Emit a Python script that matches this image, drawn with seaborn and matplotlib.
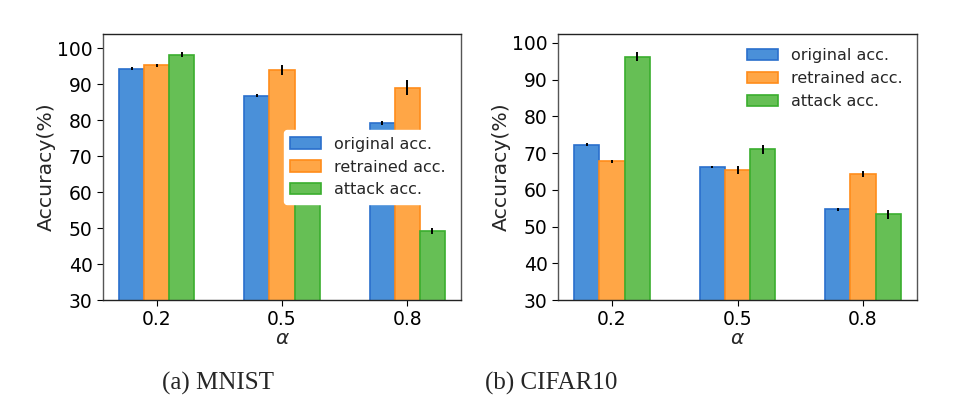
import numpy as np
import pandas as pd
import matplotlib
matplotlib.use('Agg')
import matplotlib.pyplot as plt
import seaborn as sns

alphas = ['0.2', '0.5', '0.8']
series = ['original acc.', 'retrained acc.', 'attack acc.']

mnist_original = [94.3, 86.8, 79.1]
mnist_retrained = [95.2, 93.9, 89.0]
mnist_attack = [98.2, 64.0, 49.1]
mnist_original_err = [0.4, 0.4, 0.5]
mnist_retrained_err = [0.5, 1.3, 2.0]
mnist_attack_err = [0.6, 1.0, 0.8]

cifar_original = [72.2, 66.3, 54.7]
cifar_retrained = [67.7, 65.4, 64.3]
cifar_attack = [96.2, 71.0, 53.3]
cifar_original_err = [0.4, 0.3, 0.4]
cifar_retrained_err = [0.4, 1.0, 0.8]
cifar_attack_err = [1.2, 1.2, 1.3]

face_colors = ['#4A90D9', '#FFA646', '#66BF55']
edge_colors = ['#2A6FCC', '#FF8C1A', '#3AAE2E']

sns.set_style('white')
plt.rcParams['font.family'] = ['DejaVu Sans']


def make_df(orig, retr, att):
    rows = []
    for name, vals in zip(series, [orig, retr, att]):
        for a, v in zip(alphas, vals):
            rows.append({'alpha': a, 'acc': v, 'series': name})
    return pd.DataFrame(rows)


def draw(ax, df, errs, ytop, legend_loc, legend_anchor):
    sns.barplot(data=df, x='alpha', y='acc', hue='series', hue_order=series,
                palette=face_colors, width=0.6, errorbar=None, ax=ax,
                saturation=1)
    # restyle bars per series and add error bars
    bars = [p for p in ax.patches if p.get_height() > 0]
    for i, p in enumerate(bars[:9]):
        s = i // 3
        p.set_edgecolor(edge_colors[s])
        p.set_linewidth(1.2)
        ax.errorbar(p.get_x() + p.get_width() / 2, p.get_height(),
                    yerr=errs[s][i % 3], fmt='none', ecolor='black',
                    elinewidth=1.4, capsize=0, zorder=5)
    ax.set_ylim(30, ytop)
    ax.set_xlim(-0.43, 2.43)
    ax.set_yticks(range(30, 101, 10))
    ax.tick_params(axis='both', labelsize=13.5, length=4, width=0.8,
                   left=True, bottom=True, colors='black')
    ax.set_xlabel(r'$\alpha$', fontsize=14.5, labelpad=0)
    ax.set_ylabel('Accuracy(%)', fontsize=14.7, labelpad=1)
    for side, sp in ax.spines.items():
        sp.set_color('#555555' if side in ('left', 'right') else '#222222')
        sp.set_linewidth(1.0)
    leg = ax.legend(loc=legend_loc, bbox_to_anchor=legend_anchor, fontsize=11.5,
                    frameon=True, facecolor='white', edgecolor='white',
                    framealpha=1, handlelength=1.95, handleheight=0.7,
                    borderpad=0.4)
    for h, c in zip(leg.legend_handles, edge_colors):
        h.set_edgecolor(c)
        h.set_linewidth(1.2)


fig = plt.figure(figsize=(9.56, 4.12), dpi=100)
ax1 = fig.add_axes([103 / 956, 1 - 300 / 412, 358 / 956, 266 / 412])
ax2 = fig.add_axes([558 / 956, 1 - 300 / 412, 359 / 956, 266 / 412])

draw(ax1, make_df(mnist_original, mnist_retrained, mnist_attack),
     [mnist_original_err, mnist_retrained_err, mnist_attack_err],
     103.9, 'center left', (0.483, 0.50))
draw(ax2, make_df(cifar_original, cifar_retrained, cifar_attack),
     [cifar_original_err, cifar_retrained_err, cifar_attack_err],
     102.4, 'upper right', (1.0, 1.0))

fig.text(218 / 956, 1 - 383 / 412, '(a) MNIST', fontsize=18,
         family='Liberation Serif', ha='center', va='center')
fig.text(551 / 956, 1 - 383 / 412, '(b) CIFAR10', fontsize=18,
         family='Liberation Serif', ha='center', va='center')

fig.savefig('out.png', dpi=100)
